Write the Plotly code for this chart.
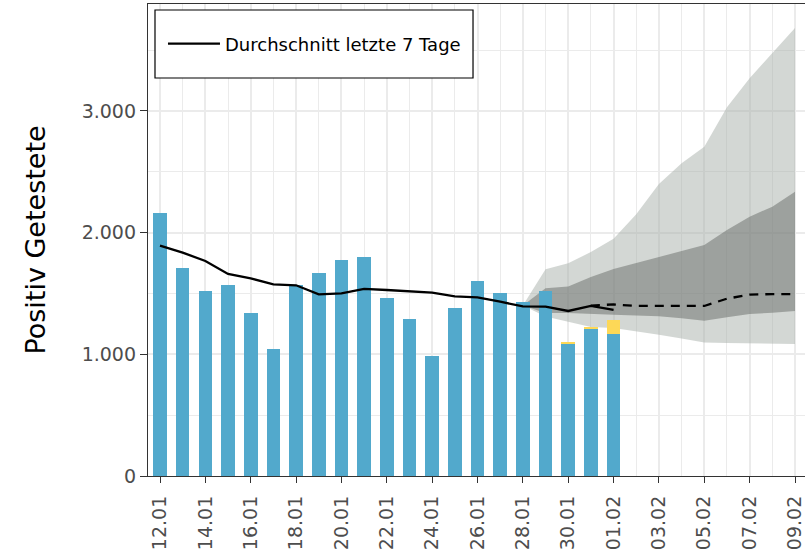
import pandas as pd
import plotly.graph_objects as go

# ---------------- data ----------------
obs_dates = [d.strftime("%Y-%m-%d") for d in pd.date_range("2021-01-12", "2021-02-01")]
blue_values = [2164, 1705, 1522, 1571, 1341, 1044, 1573, 1664, 1775, 1802, 1465,
               1290, 982, 1382, 1606, 1501, 1428, 1520, 1091, 1204, 1164]
yellow_values = [0, 0, 0, 0, 0, 0, 0, 0, 0, 0, 0, 0, 0, 0, 0, 0, 0, 0, 9, 17, 118]
avg_7days = [1892, 1835, 1767, 1660, 1624, 1575, 1567, 1493, 1501, 1537, 1528,
             1515, 1506, 1475, 1468, 1432, 1393, 1391, 1356, 1397, 1364]

fc_dates = [d.strftime("%Y-%m-%d") for d in pd.date_range("2021-01-31", "2021-02-09")]
fc_line = [1400, 1410, 1397, 1397, 1397, 1397, 1457, 1490, 1495, 1495]

band_dates = [d.strftime("%Y-%m-%d") for d in pd.date_range("2021-01-28", "2021-02-09")]
outer_upper = [1400, 1698, 1748, 1840, 1950, 2150, 2400, 2570, 2706, 3030, 3268, 3473, 3680]
outer_lower = [1400, 1310, 1268, 1225, 1215, 1190, 1160, 1130, 1096, 1092, 1090, 1088, 1085]
inner_upper = [1400, 1542, 1556, 1635, 1700, 1750, 1795, 1850, 1898, 2021, 2131, 2213, 2336]
inner_lower = [1400, 1340, 1340, 1330, 1325, 1318, 1312, 1296, 1276, 1304, 1331, 1342, 1355]

legend_label = "Durchschnitt letzte 7 Tage"
y_title = "Positiv Getestete"

# ---------------- style ----------------
FONT = "DejaVu Sans"
DAY = 86400000
x_range = ["2021-01-11 11:18", "2021-02-09 10:35"]
y_range = [0, 3878]
grid = "#EBEBEB"

fig = go.Figure()

# forecast bands (base subplot, drawn beneath the bars)
fig.add_trace(go.Scatter(x=band_dates, y=outer_lower, mode="lines", line=dict(width=0),
                         showlegend=False, hoverinfo="skip"))
fig.add_trace(go.Scatter(x=band_dates, y=outer_upper, mode="lines", line=dict(width=0),
                         fill="tonexty", fillcolor="rgba(167,175,169,0.5)",
                         showlegend=False, hoverinfo="skip"))
fig.add_trace(go.Scatter(x=band_dates, y=inner_lower, mode="lines", line=dict(width=0),
                         showlegend=False, hoverinfo="skip"))
fig.add_trace(go.Scatter(x=band_dates, y=inner_upper, mode="lines", line=dict(width=0),
                         fill="tonexty", fillcolor="rgba(103,107,104,0.5)",
                         showlegend=False, hoverinfo="skip"))

# bars and lines on overlay subplot
fig.add_trace(go.Bar(x=obs_dates, y=blue_values, marker=dict(color="#52A9CC", line=dict(width=0)),
                     width=0.6 * DAY, xaxis="x2", yaxis="y2", showlegend=False))
fig.add_trace(go.Bar(x=obs_dates, y=yellow_values, marker=dict(color="#FDD857", line=dict(width=0)),
                     width=0.6 * DAY, xaxis="x2", yaxis="y2", showlegend=False))
fig.add_trace(go.Scatter(x=fc_dates, y=fc_line, mode="lines",
                         line=dict(color="black", width=2.3, dash="9px,7px"),
                         xaxis="x2", yaxis="y2", showlegend=False))
fig.add_trace(go.Scatter(x=obs_dates, y=avg_7days, mode="lines", name=legend_label,
                         line=dict(color="black", width=2.3),
                         xaxis="x2", yaxis="y2", showlegend=True))

fig.update_layout(
    width=805, height=556,
    margin=dict(l=148, r=0, t=4, b=80, autoexpand=False),
    plot_bgcolor="white", paper_bgcolor="white",
    barmode="stack",
    separators=",.",
    font=dict(family=FONT, color="#4D4D4D"),
    xaxis=dict(type="date", range=x_range, tickformat="%d.%m", tick0="2021-01-12",
               dtick=2 * DAY, tickangle=-90, ticks="outside", ticklen=6, tickwidth=1.3,
               tickcolor="#333333", showline=True, linecolor="#333333", linewidth=1.3,
               mirror=True, showgrid=True, gridcolor=grid, gridwidth=1.6,
               minor=dict(dtick=DAY, tick0="2021-01-13", showgrid=True, gridcolor=grid,
                          gridwidth=1.3),
               tickfont=dict(size=19, color="#4D4D4D", family=FONT), zeroline=False,
               ticklabelstandoff=5, ticklabeloverflow="allow", automargin=False),
    yaxis=dict(range=y_range, dtick=1000, tickformat=",", ticks="outside", ticklen=7,
               tickwidth=1.3, tickcolor="#333333", showline=True, linecolor="#333333",
               linewidth=1.3, showgrid=True, gridcolor=grid, gridwidth=1.6,
               minor=dict(dtick=500, showgrid=True, gridcolor=grid, gridwidth=1.3),
               zeroline=False, tickfont=dict(size=19, color="#4D4D4D", family=FONT),
               automargin=False,
               title=dict(text=y_title, font=dict(size=27, color="black", family=FONT),
                          standoff=28)),
    xaxis2=dict(type="date", overlaying="x", range=x_range, visible=False),
    yaxis2=dict(overlaying="y", range=y_range, visible=False),
    legend=dict(x=0.0228, y=0.9153, xanchor="left", yanchor="middle",
                bgcolor="rgba(0,0,0,0)", borderwidth=0, itemwidth=52,
                font=dict(size=18, color="black", family=FONT)),
    shapes=[dict(type="rect", xref="paper", yref="paper", x0=0.01065, x1=0.4947,
                 y0=0.8432, y1=0.9873, line=dict(color="black", width=1.2),
                 fillcolor="white", layer="above")],
)

fig.write_html("out.html", config={"displayModeBar": False},
               post_script="document.body.style.margin='0';")
